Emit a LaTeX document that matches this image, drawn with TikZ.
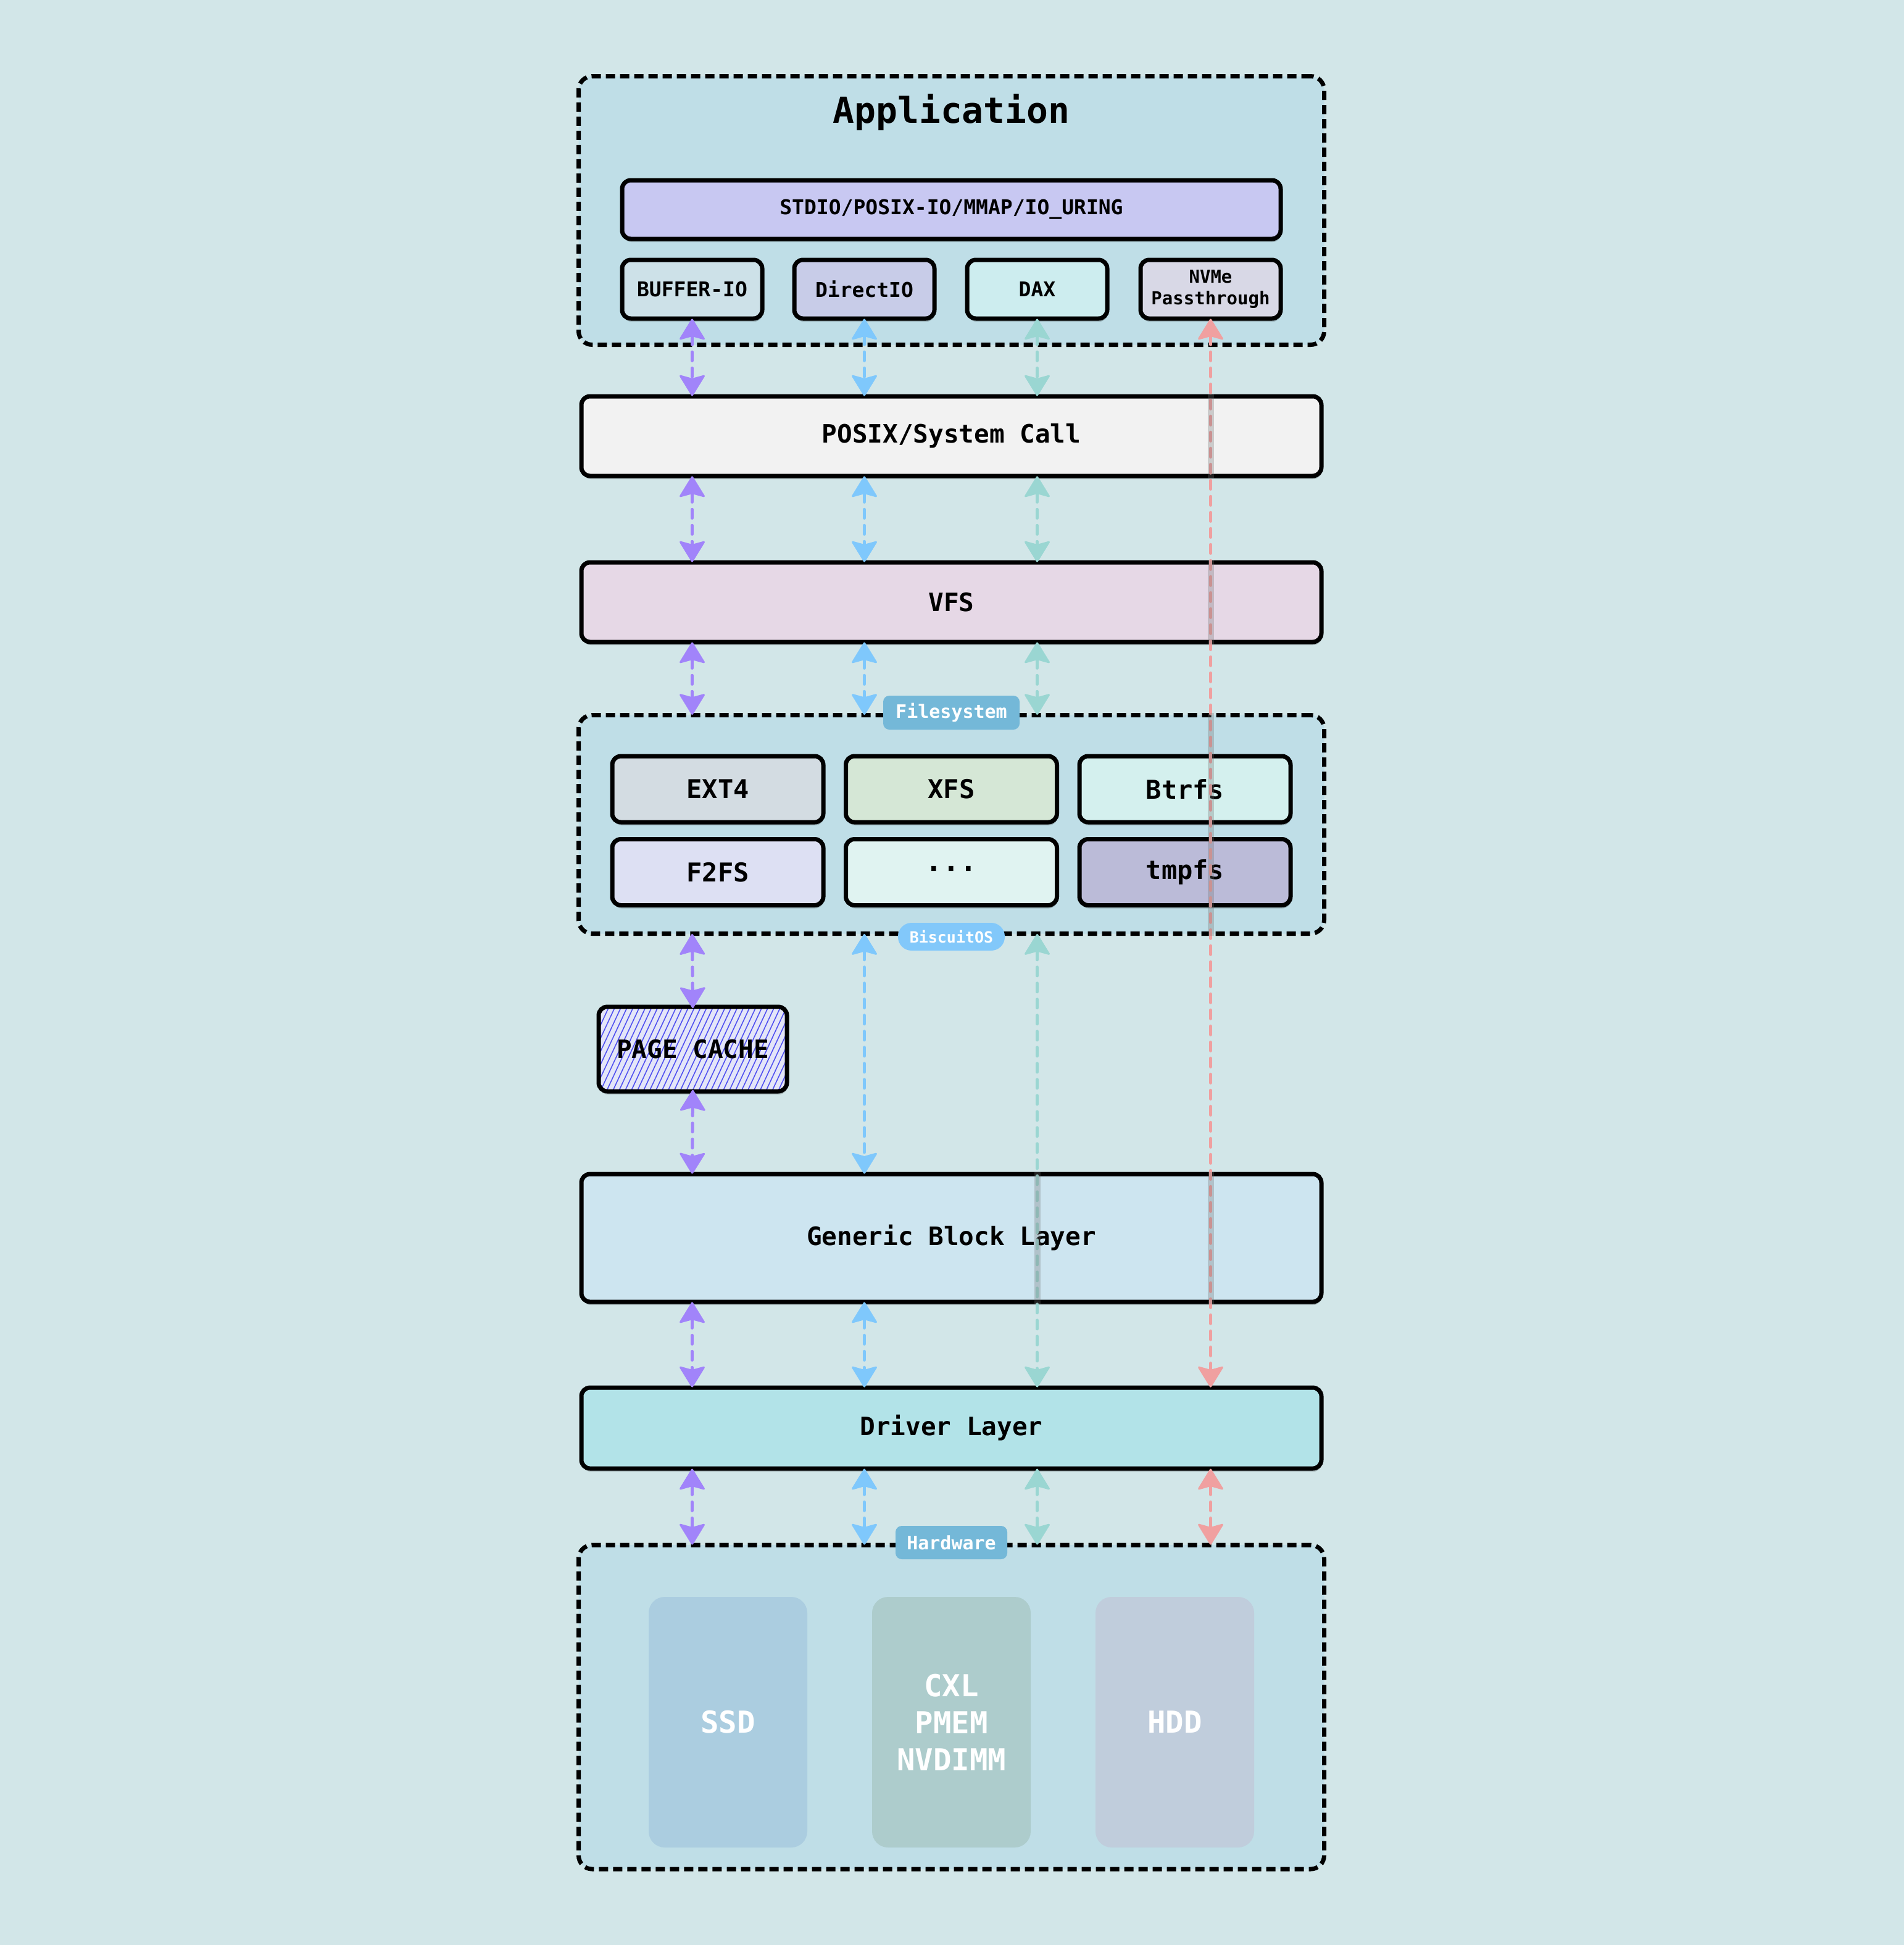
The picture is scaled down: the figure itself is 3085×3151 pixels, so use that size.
\documentclass[tikz,border=0pt]{standalone}
\usepackage{fontspec}
\setmonofont{DejaVu Sans Mono}
\usetikzlibrary{arrows.meta,shadows,patterns.meta,calc}
\definecolor{bgc}{HTML}{D2E6E8}
\definecolor{contc}{HTML}{BFDEE7}
\definecolor{stdioc}{HTML}{C8C8F2}
\definecolor{bufc}{HTML}{CDE1E8}
\definecolor{dioc}{HTML}{C8CCE8}
\definecolor{daxc}{HTML}{CDEDEF}
\definecolor{nvmec}{HTML}{D8D8E6}
\definecolor{posixc}{HTML}{F2F2F2}
\definecolor{vfsc}{HTML}{E6D8E6}
\definecolor{ext4c}{HTML}{D3DCE2}
\definecolor{xfsc}{HTML}{D5E7D6}
\definecolor{btrfsc}{HTML}{D4F0EE}
\definecolor{f2fsc}{HTML}{DDE0F3}
\definecolor{dotsc}{HTML}{E0F3F1}
\definecolor{tmpfsc}{HTML}{BBBBD8}
\definecolor{pcfill}{HTML}{E4E6F8}
\definecolor{hatchc}{HTML}{5050F0}
\definecolor{genc}{HTML}{CDE5F0}
\definecolor{drvc}{HTML}{B2E3E8}
\definecolor{labc}{HTML}{74B8D8}
\definecolor{biscc}{HTML}{82C8FA}
\definecolor{ssdc}{HTML}{ABCDE0}
\definecolor{cxlc}{HTML}{ADCCCC}
\definecolor{hddc}{HTML}{C0CDDC}
\definecolor{purc}{HTML}{A184FA}
\definecolor{bluc}{HTML}{7FC8FC}
\definecolor{tealc}{HTML}{9AD6D2}
\definecolor{redc}{HTML}{F0A0A0}
\tikzset{tipshape/.tip={Stealth[length=36pt,width=44pt,inset=6pt,round,line width=3pt]}}
\begin{document}
\begin{tikzpicture}[x=1pt,y=-1pt,
  box/.style={draw=black, line width=7pt, rounded corners=14pt, inner sep=0pt,
    font=\ttfamily\bfseries\fontsize{41}{49}\selectfont,
    drop shadow={shadow xshift=1pt, shadow yshift=-5pt, opacity=0.22, fill=black}},
  smallbox/.style={box, minimum width=227pt, minimum height=95pt,
    font=\ttfamily\bfseries\fontsize{33}{36}\selectfont},
  fsbox/.style={box, minimum width=342pt, minimum height=107pt,
    font=\ttfamily\bfseries\fontsize{42}{49}\selectfont},
  layer/.style={box, minimum width=1199pt},
  container/.style={draw=black, line width=7pt, dash pattern=on 15pt off 8pt,
    rounded corners=22pt, fill=contc, inner sep=0pt, minimum width=1208pt},
  tag/.style={fill=labc, text=white, rounded corners=10pt, inner sep=0pt,
    font=\ttfamily\bfseries\fontsize{30}{36}\selectfont},
  hwbox/.style={rounded corners=26pt, inner sep=0pt, minimum width=257pt,
    minimum height=406pt, text=white, align=center,
    font=\ttfamily\bfseries\fontsize{49}{60}\selectfont},
  link/.style={line width=5pt, line cap=round, dash pattern=on 14pt off 12pt,
    shorten <=-3pt, shorten >=-3pt, {tipshape}-{tipshape}},
  strip/.style={fill=black!55, opacity=0.3}
]
\fill[bgc] (0,0) rectangle (3085,3151);
\useasboundingbox (0,0) rectangle (3085,3151);

% containers
\node[container, minimum height=435pt] (app) at (1541.5,341) {};
\node[font=\ttfamily\bfseries\fontsize{58}{66}\selectfont] (apptitle) at (1541.5,182) {Application};
\node[container, minimum height=354pt] (fs) at (1541.5,1335.5) {};
\node[container, minimum height=525pt] (hw) at (1541.5,2765.5) {};

% application boxes
\node[box, fill=stdioc, minimum width=1067pt, minimum height=95pt,
  font=\ttfamily\bfseries\fontsize{33}{36}\selectfont] (stdio) at (1541.5,339.5) {STDIO/POSIX-IO/MMAP/IO\_URING};
\node[smallbox, fill=bufc] (buf) at (1121.5,468.5) {BUFFER-IO};
\node[smallbox, fill=dioc] (dio) at (1400.5,468.5) {DirectIO};
\node[smallbox, fill=daxc] (dax) at (1680.5,468.5) {DAX};
\node[smallbox, fill=nvmec, align=center,
  font=\ttfamily\bfseries\fontsize{29}{35}\selectfont] (nvme) at (1961.5,468.5) {NVMe\\Passthrough};

% layers
\node[layer, fill=posixc, minimum height=129pt] (posix) at (1541.5,706.5) {POSIX/System Call};
\node[layer, fill=vfsc, minimum height=129pt] (vfs) at (1541.5,975.5) {VFS};

% filesystems
\node[fsbox, fill=ext4c] (ext4) at (1163,1278.5) {EXT4};
\node[fsbox, fill=xfsc] (xfs) at (1541.5,1278.5) {XFS};
\node[fsbox, fill=btrfsc] (btrfs) at (1920,1278.5) {Btrfs};
\node[fsbox, fill=f2fsc] (f2fs) at (1163,1413) {F2FS};
\node[fsbox, fill=dotsc, font=\ttfamily\bfseries\fontsize{46}{49}\selectfont] (dots) at (1541.5,1413) {···};
\node[fsbox, fill=tmpfsc] (tmpfs) at (1920,1413) {tmpfs};

% page cache
\node[box, minimum width=305pt, minimum height=137pt,
  preaction={fill=pcfill},
  pattern={Lines[angle=65,distance=9pt,line width=1.6pt]}, pattern color=hatchc] (pc) at (1122.5,1699.5) {};
\node[font=\ttfamily\bfseries\fontsize{41}{49}\selectfont] (pclabel) at (pc.center) {PAGE CACHE};

\node[layer, fill=genc, minimum height=207pt] (gen) at (1541.5,2005.5) {Generic Block Layer};
\node[layer, fill=drvc, minimum height=131pt] (drv) at (1541.5,2313.5) {Driver Layer};

% hardware
\node[hwbox, fill=ssdc] (ssd) at (1179.5,2790) {SSD};
\node[hwbox, fill=cxlc] (cxl) at (1541.5,2790) {CXL\\PMEM\\NVDIMM};
\node[hwbox, fill=hddc] (hdd) at (1903.5,2790) {HDD};

% purple column (buffer IO)
\begin{scope}[color=purc]
\draw[link] (buf.south) -- (buf.south |- posix.north);
\draw[link] (buf.south |- posix.south) -- (buf.south |- vfs.north);
\draw[link] (buf.south |- vfs.south) -- (buf.south |- fs.north);
\draw[link] (buf.south |- fs.south) -- (pc.north);
\draw[link] (pc.south) -- (buf.south |- gen.north);
\draw[link] (buf.south |- gen.south) -- (buf.south |- drv.north);
\draw[link] (buf.south |- drv.south) -- (buf.south |- hw.north);
\end{scope}
% blue column (direct IO)
\begin{scope}[color=bluc]
\draw[link] (dio.south) -- (dio.south |- posix.north);
\draw[link] (dio.south |- posix.south) -- (dio.south |- vfs.north);
\draw[link] (dio.south |- vfs.south) -- (dio.south |- fs.north);
\draw[link] (dio.south |- fs.south) -- (dio.south |- gen.north);
\draw[link] (dio.south |- gen.south) -- (dio.south |- drv.north);
\draw[link] (dio.south |- drv.south) -- (dio.south |- hw.north);
\end{scope}
% teal column (DAX)
\begin{scope}[color=tealc]
\draw[link] (dax.south) -- (dax.south |- posix.north);
\draw[link] (dax.south |- posix.south) -- (dax.south |- vfs.north);
\draw[link] (dax.south |- vfs.south) -- (dax.south |- fs.north);
\draw[link] (dax.south |- fs.south) -- (dax.south |- drv.north);
\draw[link] (dax.south |- drv.south) -- (dax.south |- hw.north);
\end{scope}
% red column (NVMe passthrough)
\begin{scope}[color=redc]
\draw[link] (nvme.south) -- (nvme.south |- drv.north);
\draw[link] (nvme.south |- drv.south) -- (nvme.south |- hw.north);
\end{scope}

% grey crossing strips
\fill[strip] ([xshift=-5pt]nvme.south |- posix.north) rectangle ([xshift=5pt]nvme.south |- posix.south);
\fill[strip] ([xshift=-5pt]nvme.south |- vfs.north) rectangle ([xshift=5pt]nvme.south |- vfs.south);
\fill[strip] ([xshift=-5pt]nvme.south |- fs.north) rectangle ([xshift=5pt]nvme.south |- fs.south);
\fill[strip] ([xshift=-5pt]nvme.south |- gen.north) rectangle ([xshift=5pt]nvme.south |- gen.south);
\fill[strip] ([xshift=-5pt]dax.south |- gen.north) rectangle ([xshift=5pt]dax.south |- gen.south);

% tags
\node[tag, minimum width=221pt, minimum height=55pt] (fstag) at (1541.5,1154.5) {Filesystem};
\node[tag, fill=biscc, rounded corners=22pt, minimum width=173pt, minimum height=45pt,
  font=\ttfamily\bfseries\fontsize{25}{30}\selectfont] (bisc) at (1541.5,1517.5) {BiscuitOS};
\node[tag, minimum width=181pt, minimum height=54pt] (hwtag) at (1541.5,2499) {Hardware};
\end{tikzpicture}
\end{document}
